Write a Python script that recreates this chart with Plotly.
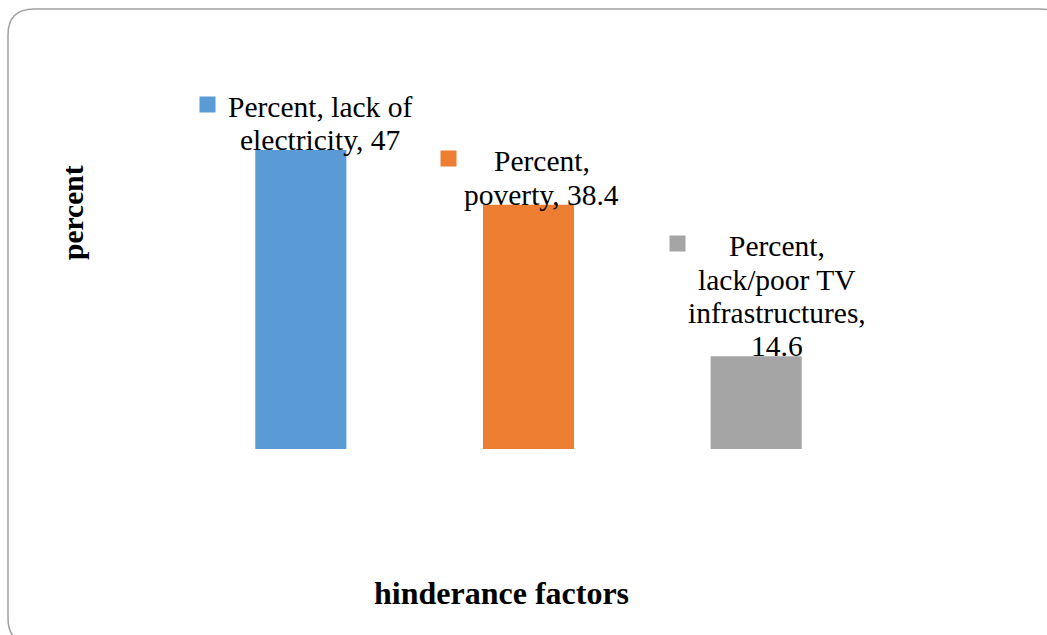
import plotly.graph_objects as go

# Survey result: factors hindering TV access (percent of respondents)
categories = ["lack of electricity", "poverty", "lack/poor TV infrastructures"]
values = [47, 38.4, 14.6]
colors = ["#5B9BD5", "#ED7D31", "#A5A5A5"]
# Wrapped data-label lines (value appended from `values`)
label_lines = [
    ["Percent, lack of", "electricity, {v}"],
    ["Percent,", "poverty, {v}"],
    ["Percent,", "lack/poor TV", "infrastructures,", "{v}"],
]
label_dx = [19, 13, 21]
key_dx = [-93.5, -80.5, -79]

W, H = 1047, 635
L, R, T, B = 187, 177, 131, 186
PW, PH = W - L - R, H - T - B

FONT = "Liberation Serif"

fig = go.Figure()
fig.add_trace(go.Bar(
    x=categories, y=values, marker=dict(color=colors, line=dict(width=0)),
    width=0.4, showlegend=False, hoverinfo="x+y",
))

annotations = []
LINE = 33.3
for i, (cat, v) in enumerate(zip(categories, values)):
    lines = [s.format(v=v) for s in label_lines[i]]
    n = len(lines)
    for j, s in enumerate(lines):
        annotations.append(dict(
            x=cat, y=v, xref="x", yref="y", text=s, showarrow=False,
            xanchor="center", yanchor="middle",
            xshift=label_dx[i], yshift=10 + (n - 1 - j) * LINE,
            font=dict(family=FONT, size=29.5, color="#000000"),
        ))
    # legend key square beside the label
    annotations.append(dict(
        x=cat, y=v, xref="x", yref="y", text=" ", showarrow=False,
        xanchor="center", yanchor="middle", width=15, height=15,
        bgcolor=colors[i], borderpad=0,
        xshift=key_dx[i], yshift=10 + (n - 1) * LINE + 2.5,
        font=dict(family=FONT, size=1),
    ))

# axis titles
def px2paper(px, py):
    return (px - L) / PW, (H - B - py) / PH

xt = px2paper(501, 593)
yt = px2paper(73, 213)
annotations.append(dict(
    x=xt[0], y=xt[1], xref="paper", yref="paper", text="<b>hinderance factors</b>",
    showarrow=False, xanchor="center", yanchor="middle",
    font=dict(family=FONT, size=32, color="#000000"),
))
annotations.append(dict(
    x=yt[0], y=yt[1], xref="paper", yref="paper", text="<b>percent</b>",
    showarrow=False, xanchor="center", yanchor="middle", textangle=-90,
    font=dict(family=FONT, size=29.5, color="#000000"),
))

# rounded outer frame
x0, y0, x1, y1, r = 8, 9, 1066, 644, 26
pts = [
    ("M", [(x0 + r, y0)]),
    ("L", [(x1 - r, y0)]),
    ("Q", [(x1, y0), (x1, y0 + r)]),
    ("L", [(x1, y1 - r)]),
    ("Q", [(x1, y1), (x1 - r, y1)]),
    ("L", [(x0 + r, y1)]),
    ("Q", [(x0, y1), (x0, y1 - r)]),
    ("L", [(x0, y0 + r)]),
    ("Q", [(x0, y0), (x0 + r, y0)]),
]
path = ""
for cmd, ps in pts:
    path += cmd + " " + " ".join("{:.5f},{:.5f}".format(*px2paper(a, b)) for a, b in ps) + " "
path += "Z"

fig.update_layout(
    width=W, height=H,
    margin=dict(l=L, r=R, t=T, b=B, pad=0),
    paper_bgcolor="white", plot_bgcolor="white",
    font=dict(family=FONT),
    bargap=0.6,
    xaxis=dict(showticklabels=False, showgrid=False, zeroline=False, showline=False, ticks=""),
    yaxis=dict(range=[0, 50], showticklabels=False, showgrid=False, zeroline=False,
               showline=False, ticks=""),
    annotations=annotations,
    shapes=[dict(type="path", xref="paper", yref="paper", path=path,
                 line=dict(color="#A0A0A0", width=1.5), layer="below")],
)

fig.write_html("out.html")
